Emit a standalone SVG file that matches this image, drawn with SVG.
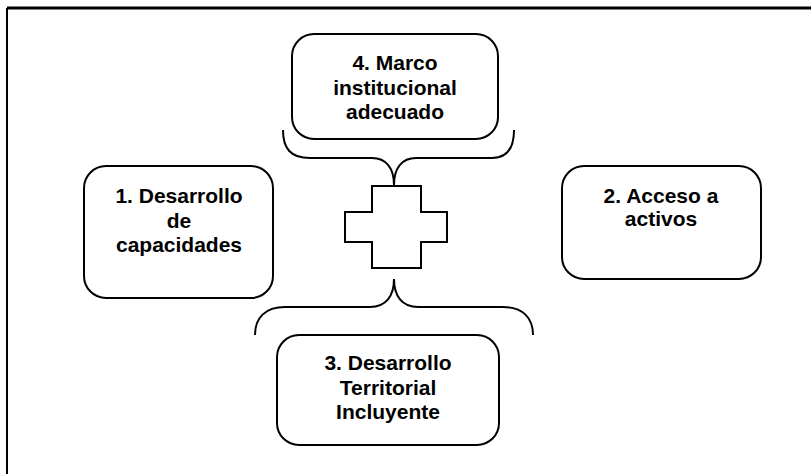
<svg xmlns="http://www.w3.org/2000/svg" width="811" height="474" viewBox="0 0 811 474">
<style>
.box{fill:#fff;stroke:#000;stroke-width:2}
.lbl{font-family:"Liberation Sans",Arial,sans-serif;font-weight:bold;font-size:21px;fill:#000;text-anchor:middle}
.br{fill:none;stroke:#000;stroke-width:2}
</style>
<rect width="811" height="474" fill="#fff"/>
<g id="frame">
<line x1="7" y1="8" x2="811" y2="8" stroke="#000" stroke-width="3"/>
<line x1="7" y1="8" x2="7" y2="474" stroke="#000" stroke-width="2"/>
</g>
<g id="node4">
<rect class="box" x="292" y="34" width="206" height="105" rx="22"/>
<text class="lbl" x="395" y="70">4. Marco</text>
<text class="lbl" x="395" y="95">institucional</text>
<text class="lbl" x="395" y="119">adecuado</text>
</g>
<g id="node1">
<rect class="box" x="84" y="166" width="189" height="132" rx="22"/>
<text class="lbl" x="179" y="203">1. Desarrollo</text>
<text class="lbl" x="179" y="228">de</text>
<text class="lbl" x="179" y="252">capacidades</text>
</g>
<g id="node2">
<rect class="box" x="562" y="166" width="199" height="113" rx="22"/>
<text class="lbl" x="661" y="203">2. Acceso a</text>
<text class="lbl" x="661" y="226">activos</text>
</g>
<g id="node3">
<rect class="box" x="277" y="335" width="222" height="110" rx="22"/>
<text class="lbl" x="388" y="370">3. Desarrollo</text>
<text class="lbl" x="388" y="395">Territorial</text>
<text class="lbl" x="388" y="419">Incluyente</text>
</g>
<g id="cross">
<path class="box" d="M372,186 H421 V212 H447 V242 H421 V268 H372 V242 H345 V212 H372 Z"/>
</g>
<g id="connectors">
<path class="br" d="M283,130 C283,148 290,158 310,158 L372,158 C386,158 394,168 394,185 C394,168 402,158 416,158 L492,158 C507,158 514,148 514,130"/>
<path class="br" d="M255,335 C255,318 265,307 285,307 L370,307 C386,307 394,296 394,279 C394,296 402,307 418,307 L503,307 C523,307 533,318 533,335"/>
</g>
</svg>
